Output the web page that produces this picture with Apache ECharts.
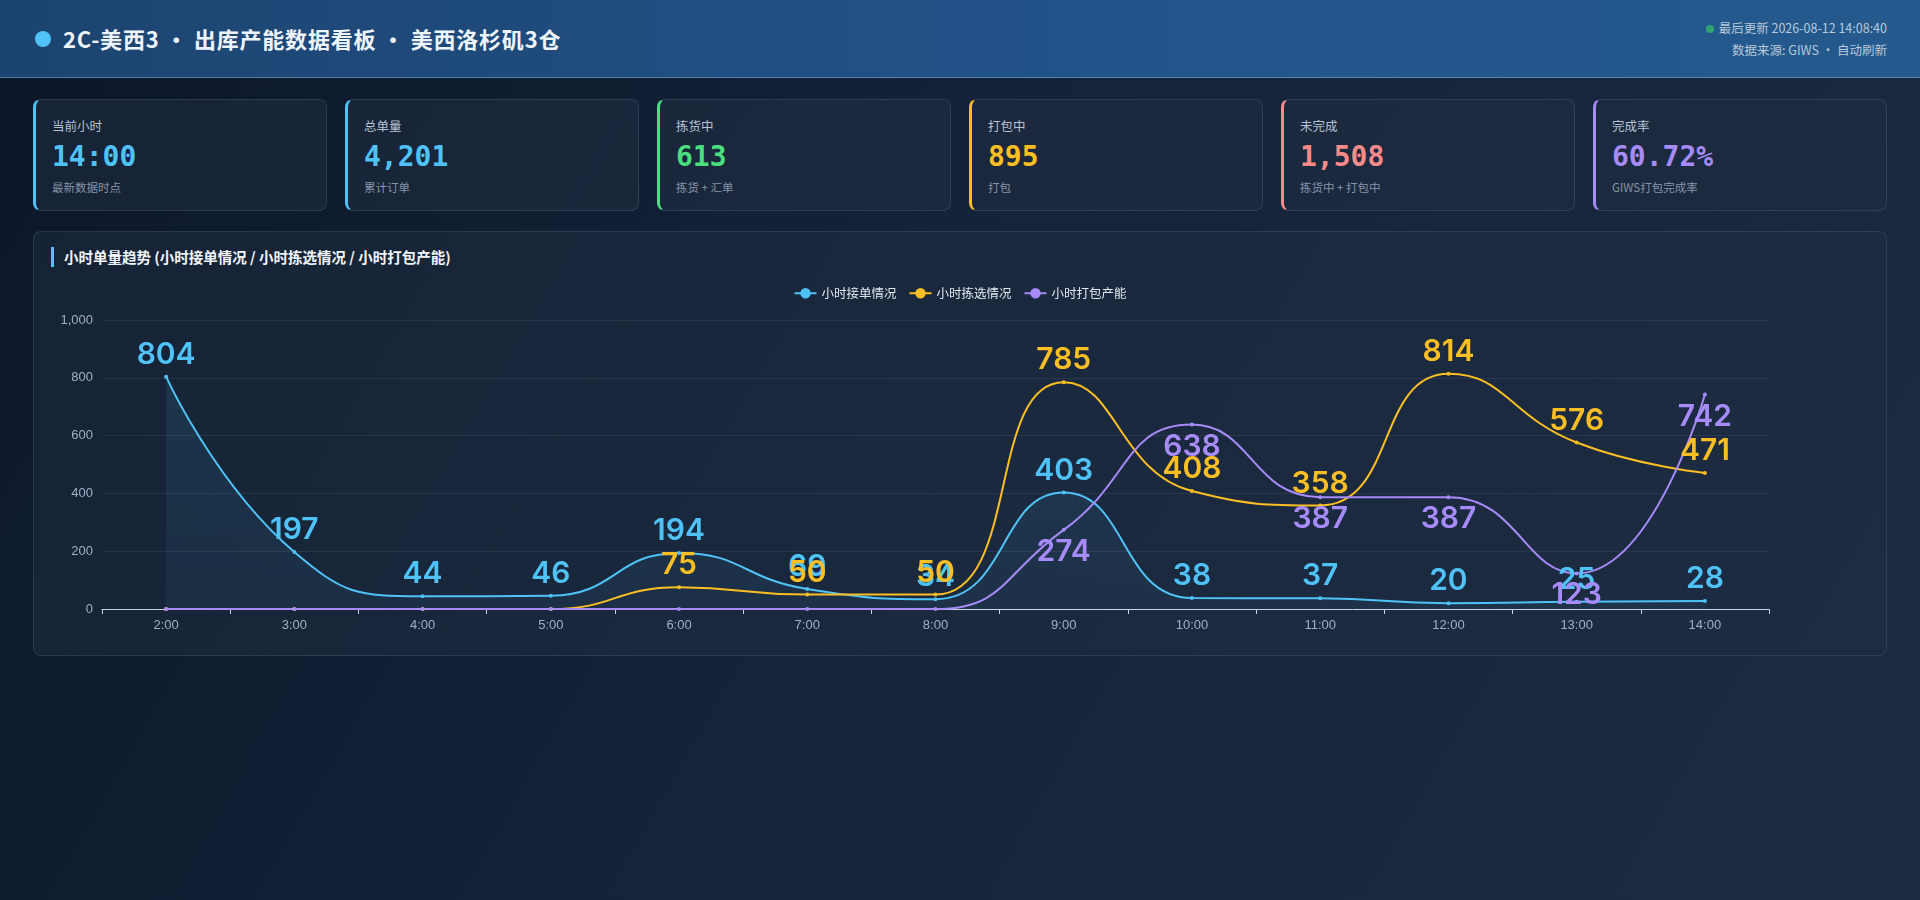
<!DOCTYPE html>
<html><head><meta charset="utf-8">
<script src="https://cdn.jsdelivr.net/npm/echarts@6/dist/echarts.min.js"></script>
<style>
*{margin:0;padding:0;box-sizing:border-box}
html,body{width:1920px;height:900px;overflow:hidden}
body{background:linear-gradient(120deg,#0b1727 0%,#14233a 45%,#1b2b42 100%);font-family:"Noto Sans CJK SC","Noto Sans",sans-serif;color:#e2e8f0;position:relative}
#header{position:absolute;left:0;top:0;width:1920px;height:78px;background:linear-gradient(90deg,#1c4470 0%,#22548a 60%,#245a8d 100%);border-bottom:1px solid rgba(120,170,220,0.55)}
#header .dot{position:absolute;left:35px;top:31px;width:16px;height:16px;border-radius:50%;background:#4fc3f7}
#header .title{position:absolute;left:63px;top:22px;font-size:22px;font-weight:700;color:#eef4fc;letter-spacing:0.8px;white-space:nowrap}
#header .right{position:absolute;right:33px;top:17px;text-align:right;font-size:12.5px;color:#b9c8da;line-height:22px}
#header .gdot{display:inline-block;width:8px;height:8px;border-radius:50%;background:#2fa373;margin-right:5px;vertical-align:0px}
.card{position:absolute;top:99px;width:294px;height:112px;border-radius:8px;background:rgba(32,46,66,0.55);border:1px solid rgba(148,163,184,0.18);border-left-width:3px}
.card .lab{position:absolute;left:16px;top:16px;font-size:12.5px;color:#b6c2d2}
.card .val{position:absolute;left:16px;top:40px;font-size:28px;font-weight:700;font-family:"DejaVu Sans Mono",monospace;letter-spacing:0px}
.card .sub{position:absolute;left:16px;top:79px;font-size:11.5px;color:#8594a8}
#panel{position:absolute;left:33px;top:231px;width:1854px;height:425px;border-radius:8px;background:rgba(32,46,66,0.5);border:1px solid rgba(148,163,184,0.16)}
#ptitle{position:absolute;left:51px;top:247px;height:20px;border-left:3px solid #4fc3f7;padding-left:10px;font-size:14.5px;font-weight:700;color:#f1f5f9;line-height:20px;white-space:nowrap}
#chart{position:absolute;left:33px;top:231px;width:1854px;height:425px}
</style></head>
<body>
<div id="header">
  <div class="dot"></div>
  <div class="title">2C-美西3 · 出库产能数据看板 · 美西洛杉矶3仓</div>
  <div class="right"><div><span class="gdot"></span>最后更新 2026-08-12 14:08:40</div><div>数据来源: GIWS · 自动刷新</div></div>
</div>
<div id="cards"></div>
<div id="panel"></div>
<div id="ptitle">小时单量趋势 (小时接单情况 / 小时拣选情况 / 小时打包产能)</div>
<div id="chart"></div>
<script>
// ---- data ----
const cardLabels = ['当前小时','总单量','拣货中','打包中','未完成','完成率'];
const cardValues = ['14:00','4,201','613','895','1,508','60.72%'];
const cardSubs = ['最新数据时点','累计订单','拣货 + 汇单','打包','拣货中 + 打包中','GIWS打包完成率'];
const cardColors = ['#4fc3f7','#4fc3f7','#4ade80','#fbbf24','#f88a8a','#a78bfa'];

const hours = ['2:00','3:00','4:00','5:00','6:00','7:00','8:00','9:00','10:00','11:00','12:00','13:00','14:00'];
const seriesNames = ['小时接单情况','小时拣选情况','小时打包产能'];
const orders = [804,197,44,46,194,69,34,403,38,37,20,25,28];
const picking = [0,0,0,0,75,50,50,785,408,358,814,576,471];
const packing = [0,0,0,0,0,0,0,274,638,387,387,123,742];
const yTicks = {min:0,max:1000,interval:200};

// ---- cards ----
const cardsEl = document.getElementById('cards');
cardLabels.forEach((l,i)=>{
  const d=document.createElement('div');
  d.className='card';
  d.style.left=(33+i*312)+'px';
  d.style.borderLeftColor=cardColors[i];
  d.innerHTML='<div class="lab">'+l+'</div><div class="val" style="color:'+cardColors[i]+'">'+cardValues[i]+'</div><div class="sub">'+cardSubs[i]+'</div>';
  cardsEl.appendChild(d);
});

// ---- chart ----
const colors=['#4fc3f7','#fbbf24','#a78bfa'];
const chart=echarts.init(document.getElementById('chart'));
function lbl(pos,color){
  return {show:true,position:pos,color:color,fontSize:30,fontWeight:600,fontFamily:'Inter, "Noto Sans", sans-serif',
    formatter:p=>p.value===0?'':String(p.value)};
}
chart.setOption({
  animation:false,
  color:colors,
  legend:{top:51,left:'center',itemGap:12,itemWidth:22,itemHeight:13,textStyle:{color:'#e2e8f0',fontSize:12.5,fontFamily:'"Noto Sans CJK SC",sans-serif'},data:seriesNames},
  grid:{left:69,right:118,top:89,bottom:47},
  xAxis:{type:'category',data:hours,boundaryGap:true,
    axisLine:{lineStyle:{color:'#c9d3e3',width:1}},
    axisTick:{show:true,lineStyle:{color:'#c9d3e3'}},
    axisLabel:{color:'#9fb0c4',fontSize:13,margin:10}},
  yAxis:{type:'value',min:yTicks.min,max:yTicks.max,interval:yTicks.interval,
    axisLine:{show:false},axisTick:{show:false},
    axisLabel:{color:'#9fb0c4',fontSize:13,margin:9},
    splitLine:{lineStyle:{color:'rgba(148,163,184,0.12)'}}},
  series:[
    {name:seriesNames[0],type:'line',smooth:true,data:orders,symbol:'circle',symbolSize:4,
      lineStyle:{width:2,color:colors[0]},itemStyle:{color:colors[0]},
      areaStyle:{color:new echarts.graphic.LinearGradient(0,0,0,1,[{offset:0,color:'rgba(79,195,247,0.16)'},{offset:1,color:'rgba(79,195,247,0.08)'}])},
      label:lbl('top',colors[0])},
    {name:seriesNames[1],type:'line',smooth:true,data:picking,symbol:'circle',symbolSize:4,
      lineStyle:{width:2,color:colors[1]},itemStyle:{color:colors[1]},
      label:lbl('top',colors[1])},
    {name:seriesNames[2],type:'line',smooth:true,data:packing,symbol:'circle',symbolSize:4,
      lineStyle:{width:2,color:colors[2]},itemStyle:{color:colors[2]},
      label:lbl('bottom',colors[2])}
  ]
});
</script>
</body></html>
